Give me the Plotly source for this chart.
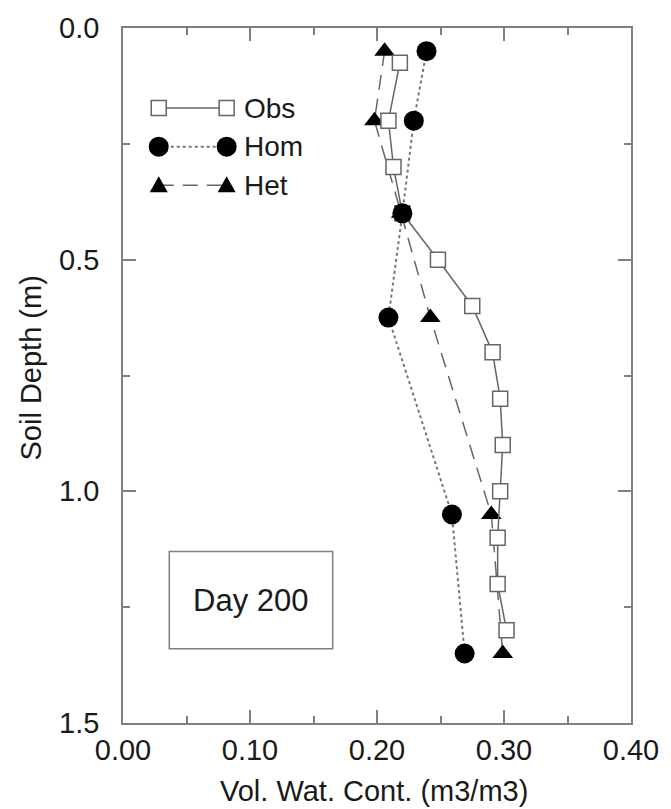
import plotly.graph_objects as go

# ---- data ----
obs_depth = [0.075, 0.2, 0.3, 0.4, 0.5, 0.6, 0.7, 0.8, 0.9, 1.0, 1.1, 1.2, 1.3]
obs_vwc = [0.218, 0.209, 0.213, 0.220, 0.248, 0.275, 0.291, 0.297, 0.299, 0.297, 0.295, 0.295, 0.302]

model_depth = [0.05, 0.2, 0.4, 0.625, 1.05, 1.35]
hom_vwc = [0.239, 0.229, 0.220, 0.209, 0.259, 0.269]
het_vwc = [0.206, 0.198, 0.219, 0.242, 0.290, 0.299]

x_ticks = [0.0, 0.1, 0.2, 0.3, 0.4]
y_ticks = [0.0, 0.5, 1.0, 1.5]

W, H = 671, 809
L, R, T, B = 123, 32, 22, 86
PW, PH = W - L - R, H - T - B

def px(xp):
    return (xp - L) / PW

def py(yp):
    return (H - B - yp) / PH

FONT = "Liberation Sans, Arial, Helvetica, sans-serif"
TXT = "#1a1a1a"
AX = "#808080"
LINE = "#666666"
HETDASH = "15px,9px"

fig = go.Figure()

fig.add_trace(go.Scatter(
    x=het_vwc, y=model_depth, mode="lines+markers", name="Het",
    line=dict(color=LINE, width=1.5, dash=HETDASH),
    marker=dict(symbol="triangle-up", size=18, color="black"),
    showlegend=False))

fig.add_trace(go.Scatter(
    x=obs_vwc, y=obs_depth, mode="lines+markers", name="Obs",
    line=dict(color=LINE, width=1.5),
    marker=dict(symbol="square", size=15, color="white",
                line=dict(color=LINE, width=1.5)),
    showlegend=False))

fig.add_trace(go.Scatter(
    x=hom_vwc, y=model_depth, mode="lines+markers", name="Hom",
    line=dict(color="#777777", width=2, dash="dot"),
    marker=dict(symbol="circle", size=20, color="black"),
    showlegend=False))

shapes = []
annotations = []

# manual legend
rows = [("Obs", 102.7, "square"), ("Hom", 141.7, "circle"), ("Het", 180.5, "triangle")]
x1p, x2p = 159.3, 228.3
for label, yp, sym in rows:
    ldash = {"square": "solid", "circle": "dot", "triangle": HETDASH}[sym]
    shapes.append(dict(type="line", xref="paper", yref="paper",
                       x0=px(x1p), x1=px(x2p), y0=py(yp), y1=py(yp),
                       line=dict(color=LINE if sym != "circle" else "#777777",
                                 width=1.5 if sym != "circle" else 2, dash=ldash)))
    for xp in (x1p, x2p):
        if sym == "square":
            shapes.append(dict(type="rect", xref="paper", yref="paper",
                               xsizemode="pixel", ysizemode="pixel",
                               xanchor=px(xp), yanchor=py(yp),
                               x0=-7.5, x1=7.5, y0=-7.5, y1=7.5,
                               fillcolor="white", line=dict(color=LINE, width=1.5)))
        elif sym == "circle":
            shapes.append(dict(type="circle", xref="paper", yref="paper",
                               xsizemode="pixel", ysizemode="pixel",
                               xanchor=px(xp), yanchor=py(yp),
                               x0=-10, x1=10, y0=-10, y1=10,
                               fillcolor="black", line=dict(color="black", width=0)))
        else:
            shapes.append(dict(type="path", xref="paper", yref="paper",
                               xsizemode="pixel", ysizemode="pixel",
                               xanchor=px(xp), yanchor=py(yp),
                               path="M -9,-7 L 9,-7 L 0,9 Z",
                               fillcolor="black", line=dict(color="black", width=0)))
    annotations.append(dict(text=label, xref="paper", yref="paper",
                            x=px(244), y=py(yp), xanchor="left", yanchor="middle",
                            showarrow=False, font=dict(family=FONT, size=28, color=TXT)))

# Day 200 box
shapes.append(dict(type="rect", xref="paper", yref="paper",
                   x0=px(170), x1=px(336), y0=py(648), y1=py(550),
                   line=dict(color=AX, width=1.5), fillcolor="rgba(0,0,0,0)"))
annotations.append(dict(text="Day 200", xref="paper", yref="paper",
                        x=px(253), y=py(599), xanchor="center", yanchor="middle",
                        showarrow=False, font=dict(family=FONT, size=31, color=TXT)))

# axis titles
annotations.append(dict(text="Vol. Wat. Cont. (m3/m3)", xref="paper", yref="paper",
                        x=px(378), y=py(792), xanchor="center", yanchor="middle",
                        showarrow=False, font=dict(family=FONT, size=29, color=TXT)))
annotations.append(dict(text="Soil Depth (m)", xref="paper", yref="paper",
                        x=px(30), y=py(365), xanchor="center", yanchor="middle",
                        textangle=-90,
                        showarrow=False, font=dict(family=FONT, size=29, color=TXT)))

fig.update_layout(
    width=W, height=H,
    margin=dict(l=L, r=R, t=T, b=B),
    paper_bgcolor="white", plot_bgcolor="white",
    font=dict(family=FONT, size=29, color=TXT),
    shapes=shapes, annotations=annotations,
    showlegend=False,
)

fig.update_xaxes(
    range=[0, 0.4], tickvals=x_ticks, tickformat=".2f",
    showgrid=False, zeroline=False,
    showline=True, linecolor=AX, linewidth=1.5, mirror="allticks",
    ticks="inside", ticklen=13, tickcolor=AX, tickwidth=1.5,
    minor=dict(dtick=0.05, ticks="inside", ticklen=7, tickcolor=AX, tickwidth=1.5, showgrid=False),
    tickfont=dict(family=FONT, size=29, color=TXT),
)
fig.update_yaxes(
    range=[1.5, 0], tickvals=y_ticks, tickformat=".1f",
    showgrid=False, zeroline=False,
    showline=True, linecolor=AX, linewidth=1.5, mirror="allticks",
    ticks="inside", ticklen=13, tickcolor=AX, tickwidth=1.5,
    ticklabelstandoff=16,
    minor=dict(dtick=0.25, ticks="inside", ticklen=7, tickcolor=AX, tickwidth=1.5, showgrid=False),
    tickfont=dict(family=FONT, size=29, color=TXT),
)

fig.write_html("out.html")
